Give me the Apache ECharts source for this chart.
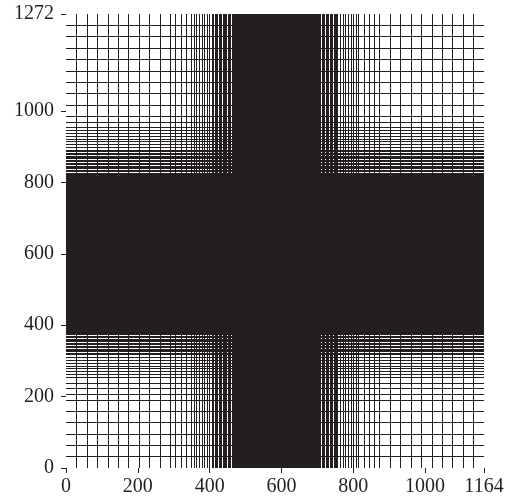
<!DOCTYPE html>
<html>
<head>
<meta charset="utf-8">
<script src="https://cdn.jsdelivr.net/npm/echarts@6/dist/echarts.min.js"></script>
<style>html,body{margin:0;padding:0;background:#fff;}#c{width:511px;height:499px;}</style>
</head>
<body>
<div id="c"></div>
<script>
// Mesh zones: zone edges and the cell size inside each zone
const xMax = 1164;
const yMax = 1272;
const xZoneEdges = [0, 291, 349.2, 407.4, 465.6, 698.4, 756.6, 814.8, 873, 1164];
const xZoneSteps = [29.1, 14.55, 7.275, 3.6375, 1.81875, 3.6375, 7.275, 14.55, 29.1];
const yZoneEdges = [0, 190.8, 254.4, 318, 381.6, 826.8, 890.4, 954, 985.8, 1272];
const yZoneSteps = [31.8, 15.9, 7.95, 3.975, 1.9875, 3.975, 7.95, 15.9, 31.8];
const xTicks = [0, 200, 400, 600, 800, 1000, 1164];
const yTicks = [0, 200, 400, 600, 800, 1000, 1272];

function meshLines(edges, steps, max) {
  const out = [];
  for (let z = 0; z < steps.length; z++) {
    const a = edges[z], b = edges[z + 1];
    const n = Math.round((b - a) / steps[z]);
    for (let i = 0; i <= n; i++) {
      const v = +(a + (b - a) * i / n).toFixed(4);
      if (v > 0 && v < max && (out.length === 0 || Math.abs(out[out.length - 1] - v) > 1e-6)) out.push(v);
    }
  }
  return out;
}
const xLines = meshLines(xZoneEdges, xZoneSteps, xMax);
const yLines = meshLines(yZoneEdges, yZoneSteps, yMax);

const ink = '#231f20';
const chart = echarts.init(document.getElementById('c'), null, {renderer: 'canvas'});
const labelStyle = {fontFamily: 'Liberation Serif', fontSize: 20, color: ink, formatter: v => String(v)};
chart.setOption({
  animation: false,
  grid: {left: 66, right: 27, top: 14, bottom: 31, containLabel: false},
  xAxis: {
    type: 'value', min: 0, max: xMax,
    axisLine: {show: false},
    splitLine: {show: false},
    axisTick: {show: true, length: 5, lineStyle: {color: ink, width: 1}, customValues: xTicks},
    axisLabel: Object.assign({margin: 9, customValues: xTicks, showMinLabel: true, showMaxLabel: true}, labelStyle)
  },
  yAxis: {
    type: 'value', min: 0, max: yMax,
    axisLine: {show: false},
    splitLine: {show: false},
    axisTick: {show: true, length: 5, lineStyle: {color: ink, width: 1}, customValues: yTicks},
    axisLabel: Object.assign({margin: 12, customValues: yTicks, showMinLabel: true, showMaxLabel: true}, labelStyle)
  },
  series: [
    {
      type: 'lines', coordinateSystem: 'cartesian2d', silent: true,
      lineStyle: {color: ink, width: 1, opacity: 1},
      data: xLines.map(v => ({coords: [[v, 0], [v, yMax]]}))
    },
    {
      type: 'lines', coordinateSystem: 'cartesian2d', silent: true,
      lineStyle: {color: ink, width: 1, opacity: 1},
      data: yLines.map(v => ({coords: [[0, v], [xMax, v]]}))
    }
  ]
});
</script>
</body>
</html>
